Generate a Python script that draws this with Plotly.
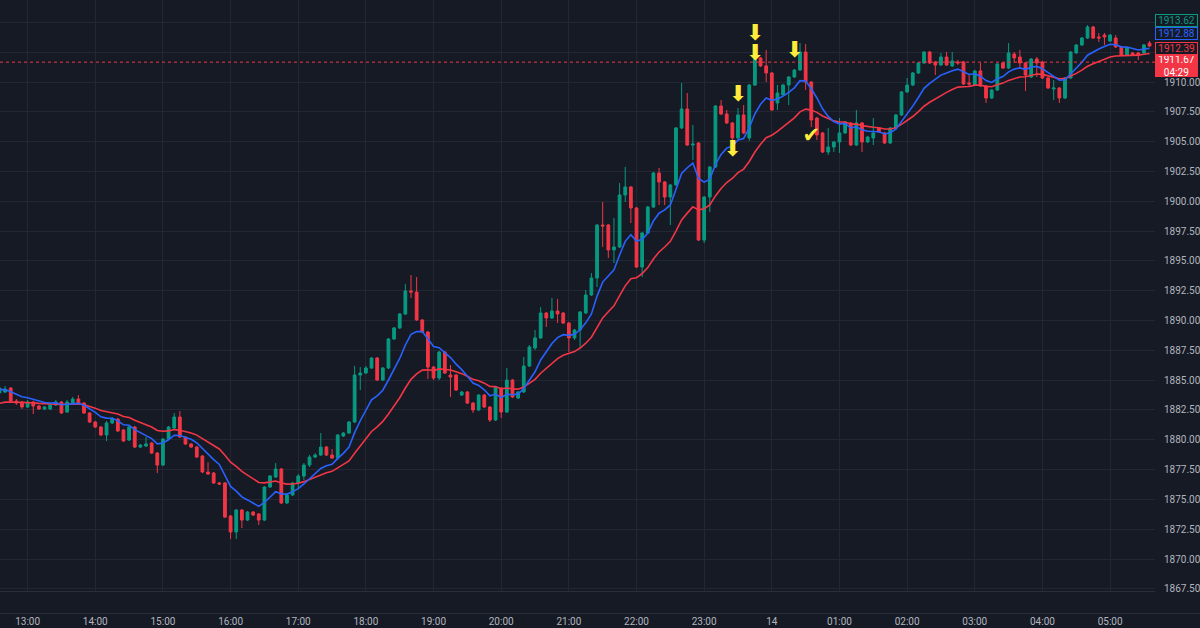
import plotly.graph_objects as go
import pandas as pd

# ---------------- data (XAUUSD 5-minute candles) ----------------
start_time = "2023-09-13 12:35"

opens = [
    1883.92, 1884.00, 1884.34, 1883.25, 1883.17, 1882.75, 1883.17, 1882.83, 1882.58, 1882.58,
    1882.92, 1883.17, 1882.33, 1883.08, 1883.42, 1883.08, 1882.25, 1881.49, 1881.07, 1880.40,
    1881.41, 1881.74, 1880.82, 1879.98, 1881.07, 1879.39, 1879.48, 1879.73, 1878.89, 1877.88,
    1880.06, 1880.99, 1881.91, 1880.23, 1879.65, 1879.39, 1878.64, 1877.30, 1877.21, 1876.38,
    1876.38, 1873.61, 1872.27, 1874.11, 1873.27, 1873.94, 1873.78, 1873.27, 1876.04, 1876.88,
    1877.55, 1874.70, 1875.37, 1876.38, 1876.96, 1877.88, 1878.55, 1878.72, 1879.39, 1878.72,
    1878.47, 1880.31, 1880.57, 1881.49, 1885.43, 1885.60, 1886.02, 1886.86, 1885.01, 1886.02,
    1888.45, 1889.38, 1890.55, 1892.48, 1892.39, 1890.05, 1889.04, 1886.10, 1885.18, 1887.36,
    1885.43, 1885.43, 1883.75, 1884.01, 1883.08, 1882.50, 1883.75, 1882.75, 1881.66, 1884.34,
    1882.33, 1885.01, 1883.50, 1884.01, 1886.19, 1887.70, 1888.54, 1890.63, 1890.21, 1890.80,
    1890.63, 1889.79, 1888.54, 1889.21, 1890.63, 1892.14, 1893.57, 1898.01, 1898.01, 1895.92,
    1896.17, 1900.53, 1901.20, 1899.44, 1894.49, 1897.34, 1899.52, 1902.37, 1901.62, 1900.36,
    1901.37, 1906.15, 1907.74, 1904.72, 1904.89, 1896.75, 1900.36, 1902.88, 1907.99, 1907.32,
    1906.57, 1905.31, 1907.24, 1905.31, 1909.75, 1912.02, 1911.35, 1910.76, 1908.24, 1908.91,
    1909.75, 1910.42, 1911.01, 1912.52, 1910.00, 1906.98, 1905.73, 1904.13, 1904.55, 1904.97,
    1905.73, 1906.57, 1904.72, 1906.57, 1904.97, 1905.31, 1906.15, 1905.73, 1904.89, 1906.15,
    1907.24, 1909.17, 1909.75, 1910.76, 1911.60, 1912.52, 1911.68, 1911.43, 1912.10, 1911.35,
    1911.68, 1911.68, 1909.92, 1909.75, 1910.93, 1909.67, 1908.66, 1909.33, 1911.60, 1911.18,
    1912.35, 1912.10, 1911.60, 1910.42, 1911.93, 1911.68, 1910.34, 1909.42, 1909.50, 1908.66,
    1910.34, 1912.44, 1913.11, 1913.69, 1914.62, 1913.78, 1913.94, 1913.44, 1913.69, 1912.94,
    1912.27, 1912.44, 1912.44, 1912.44, 1913.27,
]
highs = [
    1884.51, 1884.51, 1884.42, 1883.42, 1883.25, 1883.34, 1883.25, 1882.92, 1882.83, 1883.00,
    1883.34, 1883.25, 1883.34, 1883.59, 1883.75, 1883.17, 1882.33, 1881.58, 1881.16, 1881.58,
    1881.91, 1881.83, 1880.90, 1881.24, 1881.16, 1879.65, 1880.23, 1879.81, 1878.97, 1880.15,
    1881.16, 1882.25, 1882.41, 1880.31, 1879.73, 1879.48, 1878.72, 1878.13, 1877.30, 1876.46,
    1876.46, 1873.69, 1874.19, 1874.19, 1874.03, 1874.03, 1873.86, 1876.12, 1877.05, 1878.05,
    1877.63, 1875.45, 1876.46, 1877.13, 1878.05, 1878.72, 1878.89, 1880.57, 1879.48, 1879.23,
    1880.48, 1880.65, 1881.58, 1886.19, 1886.10, 1886.19, 1886.94, 1886.94, 1886.10, 1888.54,
    1889.46, 1890.63, 1893.06, 1893.82, 1893.65, 1890.13, 1889.12, 1886.19, 1887.45, 1887.45,
    1886.27, 1885.52, 1884.09, 1884.09, 1883.17, 1883.84, 1883.84, 1882.83, 1884.51, 1884.42,
    1886.02, 1885.10, 1884.09, 1886.94, 1887.95, 1889.21, 1891.13, 1890.71, 1891.89, 1891.81,
    1890.71, 1889.88, 1889.29, 1890.80, 1892.56, 1893.99, 1898.10, 1899.94, 1898.10, 1898.60,
    1901.53, 1902.88, 1901.28, 1899.52, 1897.42, 1899.61, 1902.46, 1902.79, 1901.70, 1901.45,
    1906.23, 1909.92, 1909.08, 1906.40, 1904.97, 1900.44, 1902.96, 1908.07, 1908.49, 1907.66,
    1906.65, 1907.82, 1908.07, 1909.84, 1913.11, 1912.10, 1912.69, 1910.84, 1909.75, 1909.84,
    1910.51, 1911.09, 1913.27, 1913.19, 1910.09, 1907.07, 1905.81, 1906.15, 1905.06, 1906.98,
    1906.73, 1906.65, 1907.66, 1906.65, 1905.48, 1906.98, 1906.23, 1905.81, 1906.23, 1907.32,
    1909.25, 1910.34, 1910.84, 1911.68, 1912.60, 1912.60, 1911.77, 1912.44, 1912.52, 1912.52,
    1911.85, 1911.77, 1910.59, 1911.01, 1911.60, 1909.75, 1909.42, 1911.60, 1911.68, 1913.27,
    1912.52, 1912.69, 1911.68, 1912.02, 1912.10, 1911.77, 1910.42, 1910.17, 1909.58, 1910.42,
    1912.60, 1913.19, 1913.78, 1914.78, 1914.70, 1914.11, 1914.11, 1914.03, 1913.94, 1913.02,
    1912.94, 1912.52, 1912.52, 1913.19, 1913.44,
]
lows = [
    1883.83, 1883.92, 1883.17, 1882.92, 1882.58, 1882.67, 1882.16, 1882.50, 1882.50, 1882.50,
    1882.83, 1882.16, 1882.25, 1883.00, 1882.92, 1882.16, 1881.41, 1880.99, 1880.31, 1879.90,
    1881.32, 1880.65, 1879.81, 1879.90, 1879.31, 1879.31, 1879.39, 1878.81, 1877.21, 1877.80,
    1879.98, 1880.90, 1880.15, 1879.56, 1879.31, 1878.47, 1877.21, 1877.05, 1876.29, 1876.21,
    1873.44, 1871.68, 1871.68, 1872.60, 1873.19, 1873.61, 1872.85, 1873.19, 1875.96, 1876.80,
    1874.61, 1874.61, 1875.29, 1875.87, 1876.63, 1877.72, 1878.47, 1878.64, 1878.64, 1878.39,
    1878.30, 1880.23, 1880.48, 1881.41, 1884.17, 1885.52, 1885.94, 1884.93, 1884.93, 1885.94,
    1888.37, 1889.29, 1890.46, 1891.89, 1889.96, 1888.95, 1885.10, 1885.01, 1885.01, 1885.52,
    1883.59, 1884.09, 1883.67, 1883.00, 1882.25, 1882.41, 1882.67, 1881.49, 1881.58, 1881.83,
    1882.25, 1883.50, 1883.42, 1883.92, 1886.10, 1887.53, 1888.45, 1889.46, 1890.13, 1889.79,
    1889.71, 1887.36, 1888.37, 1887.78, 1890.55, 1892.06, 1892.81, 1896.17, 1895.24, 1894.82,
    1896.08, 1899.94, 1898.18, 1894.41, 1893.65, 1897.26, 1899.44, 1899.69, 1899.69, 1898.01,
    1901.28, 1906.06, 1904.64, 1903.46, 1896.67, 1896.50, 1899.10, 1902.79, 1907.24, 1906.48,
    1904.89, 1905.22, 1905.64, 1905.06, 1909.67, 1911.26, 1910.00, 1907.57, 1907.66, 1908.83,
    1908.07, 1910.34, 1910.93, 1909.33, 1906.23, 1905.14, 1904.05, 1903.88, 1904.13, 1904.05,
    1905.64, 1904.64, 1904.64, 1904.13, 1904.89, 1904.72, 1905.73, 1904.80, 1904.80, 1905.98,
    1907.15, 1909.08, 1909.67, 1910.67, 1911.51, 1911.51, 1910.59, 1911.35, 1911.35, 1911.26,
    1911.43, 1909.75, 1909.58, 1909.67, 1909.58, 1908.24, 1908.58, 1909.25, 1911.09, 1911.09,
    1911.60, 1911.26, 1909.25, 1910.34, 1910.42, 1910.25, 1909.42, 1908.49, 1908.24, 1908.58,
    1910.25, 1912.35, 1913.02, 1913.61, 1913.61, 1913.36, 1913.11, 1913.36, 1912.86, 1912.18,
    1912.18, 1912.18, 1911.85, 1912.35, 1912.94,
]
closes = [
    1884.34, 1884.25, 1883.25, 1883.08, 1882.75, 1883.17, 1882.83, 1882.58, 1882.75, 1882.92,
    1883.17, 1882.25, 1883.17, 1883.42, 1883.00, 1882.25, 1881.49, 1881.07, 1880.40, 1881.41,
    1881.74, 1880.74, 1879.90, 1881.07, 1879.39, 1879.56, 1879.65, 1878.89, 1877.88, 1880.06,
    1881.07, 1881.91, 1880.23, 1879.65, 1879.39, 1878.55, 1877.30, 1877.13, 1876.38, 1876.29,
    1873.52, 1872.27, 1874.11, 1873.27, 1873.94, 1873.69, 1873.27, 1876.04, 1876.96, 1877.55,
    1874.70, 1875.37, 1876.38, 1876.96, 1877.88, 1878.55, 1878.72, 1879.39, 1878.72, 1878.47,
    1880.40, 1880.57, 1881.49, 1885.43, 1885.60, 1886.02, 1886.86, 1885.01, 1886.02, 1888.45,
    1889.38, 1890.55, 1892.48, 1892.39, 1890.05, 1889.04, 1886.10, 1885.18, 1887.36, 1885.60,
    1885.26, 1884.17, 1884.01, 1883.08, 1882.50, 1883.75, 1882.75, 1881.66, 1884.42, 1882.33,
    1885.01, 1883.59, 1884.01, 1886.19, 1887.78, 1888.54, 1890.63, 1890.21, 1890.80, 1890.55,
    1889.79, 1888.54, 1889.21, 1890.72, 1892.14, 1893.57, 1898.01, 1897.93, 1895.92, 1896.17,
    1900.53, 1901.20, 1899.44, 1894.49, 1897.34, 1899.52, 1902.37, 1901.62, 1900.36, 1901.37,
    1906.15, 1907.74, 1904.72, 1904.80, 1896.75, 1900.36, 1902.88, 1907.99, 1907.32, 1906.57,
    1905.31, 1907.24, 1905.73, 1909.75, 1912.02, 1911.35, 1910.76, 1907.66, 1909.08, 1909.75,
    1910.42, 1911.01, 1912.52, 1910.00, 1906.82, 1905.56, 1904.13, 1904.55, 1904.97, 1905.73,
    1906.65, 1904.72, 1906.57, 1904.97, 1905.39, 1905.73, 1905.81, 1904.89, 1906.15, 1907.24,
    1909.17, 1909.75, 1910.76, 1911.60, 1912.52, 1911.60, 1911.43, 1912.10, 1911.43, 1911.77,
    1911.60, 1909.84, 1909.84, 1910.93, 1909.67, 1908.66, 1909.33, 1911.51, 1911.18, 1912.44,
    1912.02, 1911.60, 1910.59, 1911.93, 1911.60, 1910.34, 1909.50, 1909.50, 1908.66, 1910.34,
    1912.52, 1913.11, 1913.69, 1914.62, 1913.69, 1913.69, 1913.78, 1913.94, 1912.94, 1912.27,
    1912.86, 1912.27, 1912.27, 1913.11, 1913.02,
]

# moving-average settings and their values at the left edge of the view
ema_fast_period = 9
ema_slow_period = 21
ema_fast_start = 1884.17
ema_slow_start = 1882.92

# signal markers
arrow_times = ["2023-09-13 23:45", "2023-09-13 23:45", "2023-09-14 00:20",
               "2023-09-13 23:30", "2023-09-13 23:25"]
arrow_prices = [1914.00, 1912.35, 1912.60, 1908.91, 1904.22]
check_times = ["2023-09-14 00:35"]
check_prices = [1905.39]

# time axis ticks
time_ticks = pd.date_range("2023-09-13 13:00", "2023-09-14 05:00", freq="1h")
time_labels = ["13:00", "14:00", "15:00", "16:00", "17:00", "18:00", "19:00", "20:00",
               "21:00", "22:00", "23:00", "14", "01:00", "02:00", "03:00", "04:00", "05:00"]
price_ticks = [1867.5 + 2.5 * i for i in range(20)]
hidden_price_labels = [1912.5, 1915.0]   # covered by the price boxes in the reference

# right-hand price labels
last_price = 1911.67
countdown = "04:29"
label_green = 1913.62
label_blue = 1912.88
label_red = 1912.39

view_start = "2023-09-13 12:35:30"
view_end = "2023-09-14 05:39:50"
price_min, price_max = 1867.32, 1916.88

# ---------------- style ----------------
BG = "#161A25"
GRID = "#232734"
UP = "#089981"
DOWN = "#F23645"
BLUE = "#2962FF"
TXT = "#B2B5BE"
YEL = "#FFEB3B"

times = pd.date_range(start_time, periods=len(closes), freq="5min")


def ema(values, period, seed):
    a = 2.0 / (period + 1)
    out, e = [], seed
    for v in values:
        e = a * v + (1 - a) * e
        out.append(e)
    return out


fast = ema(closes, ema_fast_period, ema_fast_start)
slow = ema(closes, ema_slow_period, ema_slow_start)

fig = go.Figure()
fig.add_trace(go.Candlestick(
    x=times, open=opens, high=highs, low=lows, close=closes,
    increasing=dict(line=dict(color=UP, width=1), fillcolor=UP),
    decreasing=dict(line=dict(color=DOWN, width=1), fillcolor=DOWN),
    whiskerwidth=0, showlegend=False, hoverinfo="skip",
))
fig.add_trace(go.Scatter(x=times, y=slow, mode="lines",
                         line=dict(color=DOWN, width=1.6), showlegend=False, hoverinfo="skip"))
fig.add_trace(go.Scatter(x=times, y=fast, mode="lines",
                         line=dict(color=BLUE, width=1.6), showlegend=False, hoverinfo="skip"))
fig.add_trace(go.Scatter(x=pd.to_datetime(arrow_times), y=arrow_prices, mode="text",
                         text=["\u2B07"] * len(arrow_times),
                         textfont=dict(family="DejaVu Sans", size=22, color=YEL),
                         showlegend=False, hoverinfo="skip"))
fig.add_trace(go.Scatter(x=pd.to_datetime(check_times), y=check_prices, mode="text",
                         text=["\u2714"] * len(check_times),
                         textfont=dict(family="DejaVu Sans", size=21, color=YEL),
                         showlegend=False, hoverinfo="skip"))

# last price dotted line
fig.add_shape(type="line", xref="paper", x0=0, x1=1, y0=last_price, y1=last_price,
              line=dict(color=DOWN, width=1, dash="dot"))
# separator line of the bottom strip
fig.add_shape(type="line", xref="paper", yref="paper", x0=0, x1=1.05, y0=-0.038, y1=-0.038,
              line=dict(color="#2A2E39", width=1))


def price_box(value, color, shift):
    fig.add_annotation(
        x=1, xref="paper", xanchor="left", y=value, yref="y", yanchor="middle",
        yshift=shift, text=f"{value:.2f}", showarrow=False,
        font=dict(family="Roboto", size=10, color=color),
        bgcolor=BG, bordercolor=color, borderwidth=1, borderpad=0,
        width=41, height=11, align="center",
    )


price_box(label_green, UP, 18.5)
price_box(label_blue, BLUE, 14.5)
price_box(label_red, DOWN, 5.5)
fig.add_annotation(
    x=1, xref="paper", xanchor="left", y=last_price, yref="y", yanchor="top", yshift=7,
    text=f"{last_price:.2f}<br>{countdown}", showarrow=False,
    font=dict(family="Roboto", size=10, color="#FFFFFF"),
    bgcolor=DOWN, bordercolor=DOWN, borderwidth=1, borderpad=0,
    width=41, height=20, align="center", valign="middle",
)

fig.update_layout(
    width=1200, height=628,
    margin=dict(l=0, r=45, t=0, b=37),
    paper_bgcolor=BG, plot_bgcolor=BG,
    showlegend=False,
    xaxis=dict(
        type="date", range=[view_start, view_end], automargin=False,
        tickvals=time_ticks, ticktext=time_labels,
        showgrid=True, gridcolor=GRID, gridwidth=1,
        zeroline=False, rangeslider=dict(visible=False),
        showline=True, linecolor="#2A2E39", linewidth=1,
        ticks="", ticklabelstandoff=21,
        tickfont=dict(family="Roboto", size=10, color=TXT),
    ),
    yaxis=dict(
        side="right", range=[price_min, price_max], automargin=False,
        tickvals=price_ticks,
        ticktext=["" if v in hidden_price_labels else f"{v:.2f}" for v in price_ticks],
        showgrid=True, gridcolor=GRID, gridwidth=1, zeroline=False,
        ticks="", ticklabelstandoff=8,
        tickfont=dict(family="Roboto", size=10, color=TXT),
    ),
)

fig.write_html("out.html")
